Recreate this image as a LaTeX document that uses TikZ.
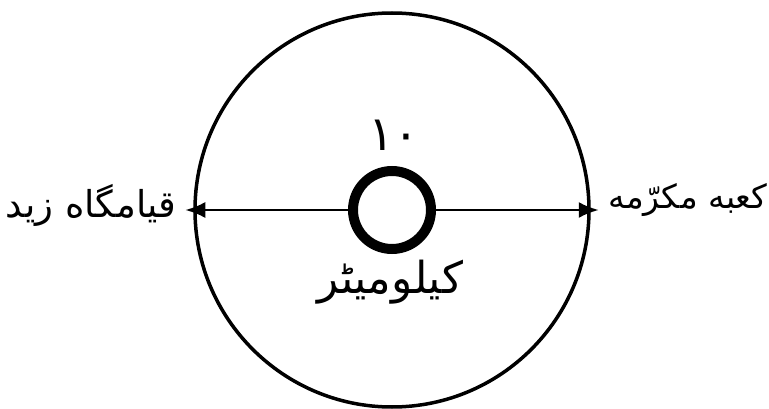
\documentclass[tikz,border=0pt]{standalone}
\usepackage{fontspec}
\newfontfamily\urdufont[Script=Arabic]{DejaVu Sans}
\TeXXeTstate=1
\usetikzlibrary{arrows.meta}

\begin{document}
\begin{tikzpicture}[x=1pt,y=-1pt,
  lbl/.style={font=\urdufont\fontsize{38}{42}\selectfont,inner sep=0pt},
  tip/.style={line width=2.5pt,-{Latex[length=20pt,width=16pt]},shorten >=-8pt}]
\useasboundingbox[fill=white] (0,0) rectangle (769,409);
% outer circle and central ring
\node[circle,draw,line width=3.5pt,minimum size=394pt,inner sep=0pt] (earth) at (392,210) {};
\node[circle,draw,line width=10pt,minimum size=78pt,inner sep=0pt] (hub) at (392,210) {};
% diameter with end arrows
\draw[tip] (hub.west) -- (earth.west);
\draw[tip] (hub.east) -- (earth.east);
% labels
\node[lbl,font=\urdufont\fontsize{48}{52}\selectfont] (dist) at (394,135) {\beginR ۱۰\endR};
\node[lbl,font=\urdufont\fontsize{44}{48}\selectfont] (km) at (390,282) {\beginR کیلومیٹر\endR};
\node[lbl,font=\urdufont\fontsize{37}{41}\selectfont] (zaid) at (91,205) {\beginR قیامگاه زید\endR};
\node[lbl,font=\urdufont\fontsize{33}{37}\selectfont] (kaaba) at (688,200) {\beginR کعبه مکرّمه\endR};
\end{tikzpicture}
\end{document}
